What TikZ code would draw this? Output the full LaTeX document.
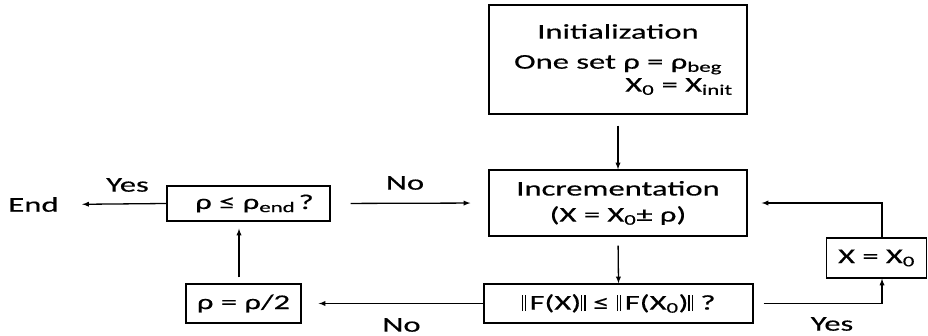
\documentclass[tikz,border=0pt]{standalone}
\usepackage{fontspec}
\setmainfont[FakeStretch=1.55,FakeBold=0.4]{Carlito}
\usepackage{tikz}
\usetikzlibrary{arrows}
\newcommand\normbar{\rule[-1.5pt]{1.3pt}{16pt}\kern2pt\rule[-1.5pt]{1.3pt}{16pt}}

\begin{document}
\begin{tikzpicture}[x=1pt,y=-1pt,>=latex,line width=1.3pt]
			\tikzstyle{every node}+=[inner sep=0pt,font=\fontsize{21}{26}\selectfont]
			\tikzstyle{stepbox}=[draw=black,align=center]
			\useasboundingbox (0,0) rectangle (928,336);
			\node [stepbox,minimum width=258pt,minimum height=109pt] (init) at (618,59.5) {Initialization\\[4pt]One set ρ = ρ\textsubscript{beg}\\[-3pt]\hspace*{122pt}X\textsubscript{0} = X\textsubscript{init}};
			\node [stepbox,minimum width=258pt,minimum height=66pt] (inc) at (618,203) {Incrementation\\(X = X\textsubscript{0}± ρ)};
			\node [stepbox,minimum width=269pt,minimum height=39pt] (norm) at (618.5,303.5) {\normbar\,F(X)\normbar\ ≤ \normbar\,F(X\textsubscript{0})\normbar\ ?};
			\node [stepbox,minimum width=100pt,minimum height=40pt] (xzero) at (876.5,258) {X = X\textsubscript{0}};
			\node [stepbox,minimum width=115pt,minimum height=39pt] (half) at (243.5,303.5) {ρ = ρ/2};
			\node [stepbox,minimum width=163pt,minimum height=35pt] (rend) at (248.5,203.5) {\hspace*{12pt}ρ ≤ ρ\textsubscript{end}\,?};
			\node (end) at (33.5,204.5) {End};
			\node (yesend) at (127.5,185) {Yes};
			\node (notop) at (405,183) {No};
			\node (nobottom) at (401.5,325) {No};
			\node (yesloop) at (832,324) {Yes};
			\draw [->,shorten <=11pt] (init.south) -- (inc.north);
			\draw [->,shorten <=9pt] (inc.south) -- (norm.north);
			\draw [->,shorten <=10pt] (norm.east) -| ([xshift=5.5pt]xzero.south);
			\draw [->,shorten >=14pt] ([xshift=5.5pt]xzero.north) |- (inc.east);
			\draw [->,shorten >=17pt] (norm.west) -- (half.east);
			\draw [->,shorten >=7pt] ([xshift=-4.5pt,yshift=6pt]half.north) -- ([xshift=-4.5pt]half.north |- rend.south);
			\draw [->,shorten >=23pt] (rend.west) -- (end.east);
			\draw [->,shorten <=20pt,shorten >=18pt] (rend.east) -- (inc.west);
\end{tikzpicture}
\end{document}
